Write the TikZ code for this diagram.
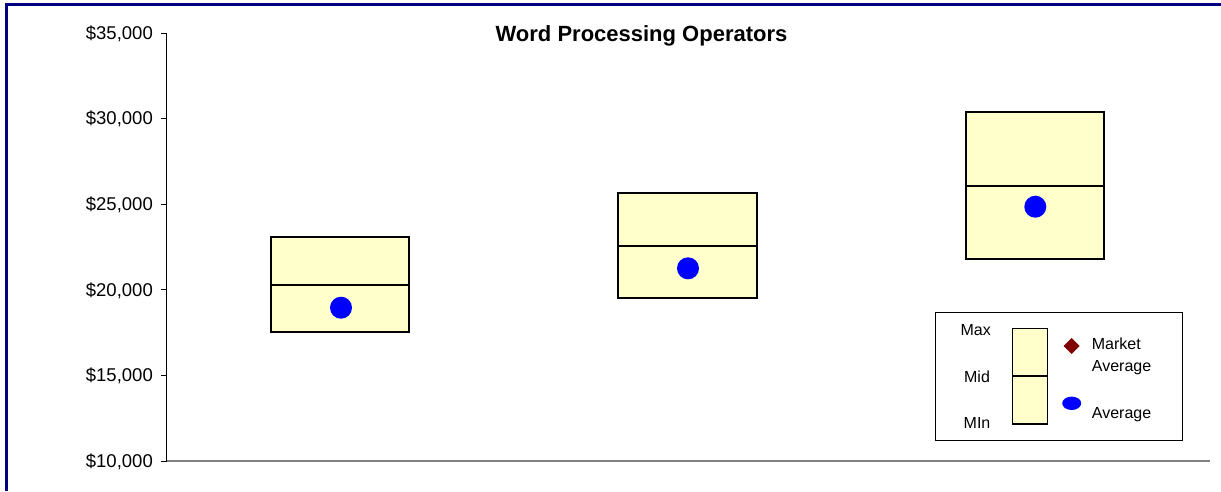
\documentclass[tikz,border=0pt]{standalone}
\usepackage{fontspec}
\setmainfont{Liberation Sans}
\definecolor{navyb}{RGB}{0,0,128}
\definecolor{boxfill}{RGB}{255,255,204}
\definecolor{avgblue}{RGB}{0,0,255}
\definecolor{mktred}{RGB}{128,0,0}
\definecolor{axgray}{RGB}{128,128,128}
\tikzset{
  rangebox/.style={draw=black, line width=2pt, fill=boxfill},
  midline/.style={draw=black, line width=2pt},
  avgdot/.style={circle, fill=avgblue, inner sep=0pt, minimum size=22pt},
  ylab/.style={anchor=east, font=\fontsize{18.5}{20}\selectfont, inner sep=0pt},
  leglab/.style={font=\fontsize{16}{18}\selectfont, inner sep=0pt},
}
\begin{document}
\begin{tikzpicture}[x=1pt,y=-1pt]
\useasboundingbox (0,0) rectangle (1221,491);
\fill[white] (0,0) rectangle (1221,491);
% frame
\draw[navyb, line width=3pt] (6.5,491) -- (6.5,4.6) -- (1221,4.6);
% title
\node[font=\bfseries\fontsize{22}{24}\selectfont, inner sep=0pt] (title) at (641.5,36) {Word Processing Operators};
% axes
\draw[axgray, line width=2pt] (166,461) -- (1210,461);
\draw[black, line width=1pt] (166.5,33) -- (166.5,461);
\foreach \v/\y in {35/33,30/118.6,25/204.2,20/289.8,15/375.4,10/461}{
  \draw[black, line width=1pt] (161,\y) -- (166.5,\y);
  \node[ylab] at (153,\y+0.7) {\$\v,000};
}
% boxes
\draw[rangebox] (271,236.7) rectangle (409.3,331.7);
\draw[midline] (271,285) -- (409.3,285);
\node[avgdot] (a1) at (341,307.7) {};
\draw[rangebox] (618.3,192.7) rectangle (756.7,298.3);
\draw[midline] (618.3,245.7) -- (756.7,245.7);
\node[avgdot] (a2) at (688,268.3) {};
\draw[rangebox] (965.7,111.7) rectangle (1104.3,259.3);
\draw[midline] (965.7,185.7) -- (1104.3,185.7);
\node[avgdot] (a3) at (1035.3,206.7) {};
% legend
\draw[black, line width=1pt, fill=white] (935,312.3) rectangle (1182.3,440);
\draw[black, line width=1.5pt, fill=boxfill] (1012.3,328.3) rectangle (1047.3,424);
\draw[black, line width=1.5pt] (1012.3,376) -- (1047.3,376);
\node[leglab] (lmax) at (975.7,330) {Max};
\node[leglab] (lmid) at (977,377) {Mid};
\node[leglab] (lmin) at (977,423.3) {MIn};
\fill[mktred] (1071.7,338) -- (1079.7,346) -- (1071.7,354) -- (1063.7,346) -- cycle;
\node[leglab, anchor=west] (lmkt1) at (1091.7,343.3) {Market};
\node[leglab, anchor=west] (lmkt2) at (1091.7,367.3) {Average};
\fill[avgblue] (1071.7,403.3) ellipse (9.5pt and 6.7pt);
\node[leglab, anchor=west] (lavg) at (1091.7,414.3) {Average};
\end{tikzpicture}
\end{document}
